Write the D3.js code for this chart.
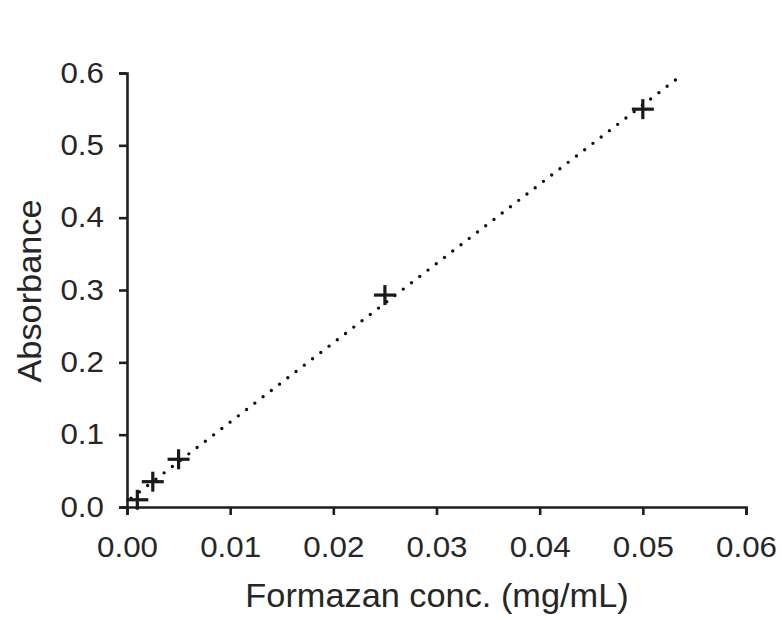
<!DOCTYPE html>
<html lang="en">
<head>
<meta charset="utf-8">
<title>Formazan standard curve</title>
<script src="https://cdn.jsdelivr.net/npm/d3@7"></script>
<style>
  body { margin: 0; background: #fff; }
  svg { display: block; }
  .axis path, .axis line { stroke: #1e1e1e; stroke-width: 2.6; }
  .axis text { font-family: "Liberation Sans", Arial, sans-serif; font-size: 29px; fill: #262626; }
  .title { font-family: "Liberation Sans", Arial, sans-serif; font-size: 33px; fill: #262626; }
</style>
</head>
<body>
<script>
// data
var conc = [0.001, 0.0025, 0.005, 0.025, 0.05];
var absorb = [0.01, 0.035, 0.066, 0.293, 0.55];
var xTicks = [0, 0.01, 0.02, 0.03, 0.04, 0.05, 0.06];
var yTicks = [0, 0.1, 0.2, 0.3, 0.4, 0.5, 0.6];
var trendRange = [0.0004, 0.0532];

var width = 782, height = 620;
var svg = d3.select("body").append("svg")
  .attr("width", width).attr("height", height);

var x = d3.scaleLinear().domain([0, 0.06]).range([127, 746]);
var y = d3.scaleLinear().domain([0, 0.6]).range([507, 73]);

// the original lettering is a little wider than Liberation Sans
function widen(sel, k) {
  sel.each(function() {
    var len = this.getComputedTextLength();
    d3.select(this).attr("textLength", len * k).attr("lengthAdjust", "spacingAndGlyphs");
  });
}

// least squares line through the points
var mx = d3.mean(conc), my = d3.mean(absorb);
var sxy = d3.sum(conc, function(c, i) { return (c - mx) * (absorb[i] - my); });
var sxx = d3.sum(conc, function(c) { return (c - mx) * (c - mx); });
var slope = sxy / sxx, icpt = my - slope * mx;

svg.append("line")
  .attr("x1", x(trendRange[0])).attr("y1", y(icpt + slope * trendRange[0]))
  .attr("x2", x(trendRange[1])).attr("y2", y(icpt + slope * trendRange[1]))
  .attr("stroke", "#111")
  .attr("stroke-width", 3.4)
  .attr("stroke-linecap", "round")
  .attr("stroke-dasharray", "0 10.4");

var xAxis = svg.append("g").attr("class", "axis")
  .attr("transform", "translate(0," + y(0) + ")")
  .call(d3.axisBottom(x).tickValues(xTicks).tickFormat(d3.format(".2f"))
    .tickSize(8).tickSizeOuter(8).tickPadding(21));

var yAxis = svg.append("g").attr("class", "axis")
  .attr("transform", "translate(" + x(0) + ",0)")
  .call(d3.axisLeft(y).tickValues(yTicks).tickFormat(d3.format(".1f"))
    .tickSize(8).tickSizeOuter(8).tickPadding(15));

svg.selectAll(".axis .domain").attr("fill", "none");
widen(svg.selectAll(".axis text"), 1.08);

// plus markers
var pts = svg.selectAll("g.pt").data(conc).enter().append("g")
  .attr("class", "pt")
  .attr("transform", function(d, i) { return "translate(" + x(d) + "," + y(absorb[i]) + ")"; });
pts.append("line").attr("x1", -11).attr("x2", 11).attr("y1", 0).attr("y2", 0);
pts.append("line").attr("x1", 0).attr("x2", 0).attr("y1", -10).attr("y2", 10);
pts.selectAll("line").attr("stroke", "#1a1a1a").attr("stroke-width", 3.2);

svg.append("text").attr("class", "title")
  .attr("x", 437).attr("y", 607)
  .attr("text-anchor", "middle")
  .text("Formazan conc. (mg/mL)")
  .call(widen, 1.04);

svg.append("text").attr("class", "title")
  .attr("transform", "translate(41,291) rotate(-90)")
  .attr("text-anchor", "middle")
  .text("Absorbance")
  .call(widen, 1.04);
</script>
</body>
</html>
